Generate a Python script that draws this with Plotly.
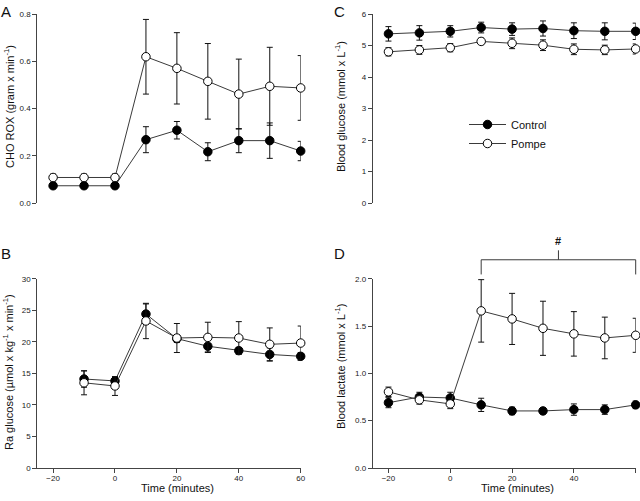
import plotly.graph_objects as go

# ---------------- data ----------------
time = [-20, -10, 0, 10, 20, 30, 40, 50, 60]
time_b = [-10, 0, 10, 20, 30, 40, 50, 60]

# A: CHO ROX (g/min)
cho_control = [0.073, 0.073, 0.073, 0.268, 0.308, 0.217, 0.264, 0.264, 0.220]
cho_control_err = [0.010, 0.010, 0.010, 0.055, 0.037, 0.038, 0.051, 0.075, 0.041]
cho_pompe = [0.108, 0.108, 0.108, 0.619, 0.570, 0.515, 0.461, 0.494, 0.487]
cho_pompe_err = [0.014, 0.014, 0.014, 0.158, 0.151, 0.160, 0.148, 0.165, 0.137]

# B: Ra glucose (µmol/kg/min)
ra_control = [14.1, 13.8, 24.4, 20.5, 19.3, 18.6, 18.0, 17.7]
ra_control_err = [1.3, 0.5, 1.6, 0.6, 0.9, 0.5, 1.05, 0.6]
ra_pompe = [13.5, 13.0, 23.3, 20.6, 20.7, 20.6, 19.6, 19.8]
ra_pompe_err = [1.9, 1.5, 2.8, 2.3, 2.4, 2.6, 2.6, 2.7]

# C: Blood glucose (mmol/L)
glu_control = [5.37, 5.40, 5.45, 5.57, 5.52, 5.54, 5.47, 5.45, 5.45]
glu_control_err = [0.23, 0.23, 0.18, 0.17, 0.20, 0.24, 0.25, 0.27, 0.26]
glu_pompe = [4.80, 4.86, 4.93, 5.13, 5.07, 5.01, 4.88, 4.86, 4.89]
glu_pompe_err = [0.13, 0.14, 0.13, 0.10, 0.17, 0.17, 0.17, 0.15, 0.16]

# D: Blood lactate (mmol/L)
lac_control = [0.69, 0.75, 0.74, 0.667, 0.603, 0.603, 0.617, 0.617, 0.667]
lac_control_err = [0.053, 0.05, 0.06, 0.07, 0.04, 0.03, 0.06, 0.05, 0.04]
lac_pompe = [0.805, 0.72, 0.677, 1.66, 1.575, 1.476, 1.417, 1.374, 1.402]
lac_pompe_err = [0.05, 0.045, 0.05, 0.33, 0.27, 0.286, 0.235, 0.22, 0.18]

yticks_a = [0.0, 0.2, 0.4, 0.6, 0.8]
yticks_b = [0, 5, 10, 15, 20, 25, 30]
yticks_c = [0, 1, 2, 3, 4, 5, 6]
yticks_d = [0.0, 0.5, 1.0, 1.5, 2.0]
xticks = [-20, 0, 20, 40, 60]

# ---------------- layout helpers ----------------
W, H = 640, 501
FONT = "Liberation Sans, Arial, sans-serif"
LINE = "#3a3a3a"
XRANGE = [-25.1, 60]


def px(x):
    return x / W


def py(y):
    return 1 - y / H


dom_left = [px(37.3), px(300.7)]
dom_right = [px(372.7), px(635.7)]
dom_top = [py(203), py(14)]
dom_bot = [py(468), py(278.7)]

fig = go.Figure()


def add_pair(xs, c, ce, p, pe, xa, ya, legend=False):
    fig.add_trace(go.Scatter(
        x=xs, y=c, mode="lines+markers", name="Control",
        xaxis=xa, yaxis=ya, showlegend=legend, cliponaxis=False,
        line=dict(color=LINE, width=1),
        marker=dict(size=8.5, color="black", line=dict(color="black", width=1)),
        error_y=dict(type="data", array=ce, visible=True, color="#111",
                     thickness=1, width=3),
    ))
    fig.add_trace(go.Scatter(
        x=xs, y=p, mode="lines+markers", name="Pompe",
        xaxis=xa, yaxis=ya, showlegend=legend, cliponaxis=False,
        line=dict(color=LINE, width=1),
        marker=dict(size=8.5, color="white", line=dict(color="black", width=1)),
        error_y=dict(type="data", array=pe, visible=True, color="#111",
                     thickness=1, width=3),
    ))


add_pair(time, cho_control, cho_control_err, cho_pompe, cho_pompe_err, "x", "y")
add_pair(time_b, ra_control, ra_control_err, ra_pompe, ra_pompe_err, "x2", "y2")
add_pair(time, glu_control, glu_control_err, glu_pompe, glu_pompe_err, "x3", "y3", legend=True)
add_pair(time, lac_control, lac_control_err, lac_pompe, lac_pompe_err, "x4", "y4")

tickfont = dict(family=FONT, size=8, color="#222")


def xaxis(dom, anchor, show):
    return dict(domain=dom, anchor=anchor, range=XRANGE, showgrid=False,
                zeroline=False, showline=show, linecolor="#444", linewidth=1,
                ticks="outside" if show else "", ticklen=4, tickwidth=1,
                tickcolor="#444", tickvals=xticks, showticklabels=show,
                tickfont=tickfont, automargin=False, ticklabelstandoff=-2)


def yaxis(dom, anchor, rng, tv, fmt):
    return dict(domain=dom, anchor=anchor, range=rng, showgrid=False,
                zeroline=False, showline=True, linecolor="#444", linewidth=1,
                ticks="outside", ticklen=4, tickwidth=1, tickcolor="#444",
                tickvals=tv, tickformat=fmt, tickfont=tickfont, automargin=False)


fig.update_layout(
    width=W, height=H,
    margin=dict(l=0, r=0, t=0, b=0, autoexpand=False),
    paper_bgcolor="white", plot_bgcolor="white",
    font=dict(family=FONT, color="#111"),
    hovermode=False,
    xaxis=xaxis(dom_left, "y", False),
    yaxis=yaxis(dom_top, "x", [0, 0.8], yticks_a, ".1f"),
    xaxis2=xaxis(dom_left, "y2", True),
    yaxis2=yaxis(dom_bot, "x2", [0, 30], yticks_b, "d"),
    xaxis3=xaxis(dom_right, "y3", False),
    yaxis3=yaxis(dom_top, "x3", [0, 6], yticks_c, "d"),
    xaxis4=xaxis(dom_right, "y4", True),
    yaxis4=yaxis(dom_bot, "x4", [0, 2], yticks_d, ".1f"),
    showlegend=True,
    legend=dict(x=px(464), y=py(110), xanchor="left", yanchor="top",
                bgcolor="rgba(0,0,0,0)", itemwidth=37,
                font=dict(family=FONT, size=11, color="#111"),
                tracegroupgap=0),
)

ann = []


def text(x, y, s, size, angle=0, bold=False):
    ann.append(dict(x=px(x), y=py(y), xref="paper", yref="paper",
                    text=("<b>%s</b>" % s) if bold else s, showarrow=False,
                    textangle=angle, xanchor="center", yanchor="middle",
                    font=dict(family=FONT, size=size, color="#111")))


# panel letters
text(6, 11, "A", 15)
text(6, 254, "B", 15)
text(339, 11, "C", 15)
text(339, 254, "D", 15)

# axis titles
text(9, 107, "CHO ROX (gram x min<sup>-1</sup>)", 11, -90)
text(8, 372, "Ra glucose (µmol x kg<sup>-1</sup> x min<sup>-1</sup>)", 11, -90)
text(340, 107, "Blood glucose (mmol x L<sup>-1</sup>)", 11, -90)
text(340, 367, "Blood lactate (mmol x L<sup>-1</sup>)", 11, -90)
text(177, 488, "Time (minutes)", 11)
text(517, 488, "Time (minutes)", 11)

# significance bracket on panel D, positioned through D's axis scale
def dx(v):
    return dom_right[0] + (v - XRANGE[0]) / (XRANGE[1] - XRANGE[0]) * (dom_right[1] - dom_right[0])


def dy(v):
    return dom_bot[0] + v / 2.0 * (dom_bot[1] - dom_bot[0])


b_start, b_end = 10, 60
b_mid = (b_start + b_end) / 2
y_line, y_foot, y_top = 2.2, 2.045, 2.3
shapes = [
    dict(type="line", xref="paper", yref="paper", x0=dx(b_start), x1=dx(b_end),
         y0=dy(y_line), y1=dy(y_line), line=dict(color=LINE, width=1)),
    dict(type="line", xref="paper", yref="paper", x0=dx(b_start), x1=dx(b_start),
         y0=dy(y_line), y1=dy(y_foot), line=dict(color=LINE, width=1)),
    dict(type="line", xref="paper", yref="paper", x0=dx(b_end), x1=dx(b_end),
         y0=dy(y_line), y1=dy(y_foot), line=dict(color=LINE, width=1)),
    dict(type="line", xref="paper", yref="paper", x0=dx(b_mid), x1=dx(b_mid),
         y0=dy(y_line), y1=dy(y_top), line=dict(color=LINE, width=1)),
]
ann.append(dict(x=dx(b_mid), y=dy(2.4), xref="paper", yref="paper", text="<b>#</b>",
                showarrow=False, xanchor="center", yanchor="middle",
                font=dict(family=FONT, size=11, color="#111")))

fig.update_layout(annotations=ann, shapes=shapes)
fig.write_html("out.html", config={"displayModeBar": False},
               post_script="document.body.style.margin='0';document.body.style.overflow='hidden';")
